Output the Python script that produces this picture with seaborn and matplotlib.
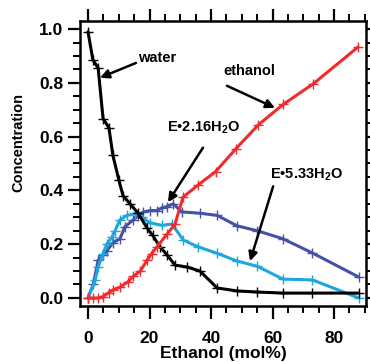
import matplotlib
matplotlib.use('Agg')
import matplotlib.pyplot as plt
import seaborn as sns
import pandas as pd
from matplotlib.ticker import MultipleLocator, FormatStrFormatter

# ---- data ----
water_x = [0, 1.6, 3.3, 4.9, 6.8, 8.1, 10, 11.4, 13.7, 16.3, 19.2, 21, 23.4, 25.7, 28.3, 32.2, 36.4, 42, 48.5, 55, 63.4, 73, 88]
water_y = [0.99, 0.885, 0.855, 0.667, 0.633, 0.53, 0.44, 0.38, 0.35, 0.315, 0.26, 0.233, 0.19, 0.16, 0.122, 0.115, 0.1, 0.037, 0.026, 0.022, 0.018, 0.018, 0.018]

ethanol_x = [0, 1.6, 3.3, 4.9, 6.8, 8.1, 10.4, 13, 14.7, 17, 19.2, 20.7, 22.4, 25.7, 28.3, 30.9, 35.8, 41.5, 48.1, 55.4, 63.5, 73.2, 87.8]
ethanol_y = [0, 0, 0, 0.005, 0.02, 0.03, 0.04, 0.06, 0.08, 0.1, 0.14, 0.165, 0.19, 0.237, 0.275, 0.375, 0.42, 0.47, 0.555, 0.644, 0.72, 0.796, 0.933]

e216_x = [0, 1.7, 3.3, 4.9, 6.1, 8.1, 10.4, 12, 14.7, 16.3, 18, 20.2, 22.4, 24, 25.7, 27.7, 30.5, 36.4, 42, 48.5, 55, 63.4, 73, 88]
e216_y = [0, 0.05, 0.14, 0.16, 0.175, 0.205, 0.22, 0.265, 0.29, 0.305, 0.32, 0.325, 0.325, 0.335, 0.34, 0.35, 0.32, 0.315, 0.307, 0.268, 0.25, 0.22, 0.167, 0.078]

e533_x = [0, 2.3, 3.3, 4.9, 6.1, 7.8, 8.8, 10.4, 12.7, 15.3, 17.5, 20, 24, 27.3, 31, 35.8, 42, 48.5, 55, 63.4, 73, 88]
e533_y = [0, 0.065, 0.115, 0.165, 0.2, 0.226, 0.25, 0.29, 0.307, 0.314, 0.3, 0.28, 0.27, 0.275, 0.215, 0.19, 0.166, 0.137, 0.118, 0.07, 0.067, 0.0]

x_ticks = [0, 20, 40, 60, 80]
y_ticks = [0.0, 0.2, 0.4, 0.6, 0.8, 1.0]

# ---- style ----
sns.set_style('ticks')
plt.rcParams['font.family'] = ['Liberation Sans', 'DejaVu Sans']
plt.rcParams['font.weight'] = 'bold'
plt.rcParams['mathtext.fontset'] = 'custom'
plt.rcParams['mathtext.rm'] = 'Liberation Sans:bold'
plt.rcParams['mathtext.bf'] = 'Liberation Sans:bold'

fig = plt.figure(figsize=(3.7, 3.62), dpi=100)
ax = fig.add_axes([80/370, 1 - 306/362, (366 - 80)/370, (306 - 21)/362])

series = [
    (e216_x, e216_y, '#4352a6'),
    (e533_x, e533_y, '#1ea7df'),
    (water_x, water_y, '#000000'),
    (ethanol_x, ethanol_y, '#f22a2e'),
]
for xs, ys, c in series:
    df = pd.DataFrame({'x': xs, 'y': ys})
    sns.lineplot(data=df, x='x', y='y', ax=ax, color=c, lw=2.2, marker='+',
                 markersize=7.5, mew=1.0, mec=c, sort=False, estimator=None)

ax.set_xlim(-2.6, 90.4)
ax.set_ylim(-0.03, 1.03)
ax.set_xticks(x_ticks)
ax.set_yticks(y_ticks)
ax.xaxis.set_minor_locator(MultipleLocator(5))
ax.yaxis.set_minor_locator(MultipleLocator(0.05))
ax.yaxis.set_major_formatter(FormatStrFormatter('%.1f'))

for s in ax.spines.values():
    s.set_linewidth(1.8)
    s.set_visible(True)
    s.set_color('black')
ax.tick_params(which='major', direction='out', length=9, width=1.6,
               top=True, right=True, labelsize=12.5, labelcolor='black', color='black')
ax.tick_params(which='minor', direction='out', length=5, width=1.4,
               top=True, right=True, color='black')
ax.tick_params(axis='x', which='major', pad=9)
ax.tick_params(axis='y', which='major', pad=3)

ax.set_xlabel('Ethanol (mol%)', fontsize=12.5, fontweight='bold', labelpad=0, color='black')
ax.set_ylabel('Concentration', fontsize=10.5, fontweight='bold', color='black')
ax.yaxis.set_label_coords(-0.19, 0.572)

arrow = dict(arrowstyle='-|>', color='black', lw=1.8, mutation_scale=13,
             shrinkA=0, shrinkB=0)
txt = dict(fontsize=10.5, fontweight='bold', color='black')

ax.text(16.3, 0.893, 'water', ha='left', va='center', **txt)
ax.annotate('', xy=(3.9, 0.819), xytext=(15.6, 0.874), arrowprops=arrow)

ax.text(52.4, 0.844, 'ethanol', ha='center', va='center', **txt)
ax.annotate('', xy=(60.8, 0.707), xytext=(45.2, 0.789), arrowprops=arrow)

ax.text(25.7, 0.633, r'E•2.16H$_\mathbf{2}$O', ha='left', va='center', **txt)
ax.annotate('', xy=(26, 0.356), xytext=(37.4, 0.559), arrowprops=arrow)

ax.text(59.2, 0.459, r'E•5.33H$_\mathbf{2}$O', ha='left', va='center', **txt)
ax.annotate('', xy=(52.7, 0.137), xytext=(60.2, 0.415), arrowprops=arrow)

fig.savefig('out.png', dpi=100)
